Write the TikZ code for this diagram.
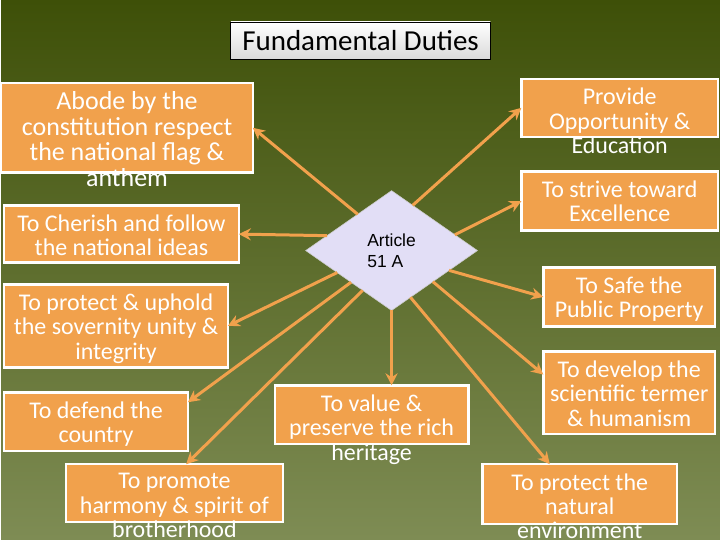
\documentclass[tikz,border=0pt]{standalone}
\usepackage{fontspec}
\setmainfont{Carlito}
\newfontfamily\arialfont{Liberation Sans}
\usetikzlibrary{shapes.geometric,arrows.meta,calc}
\definecolor{bgtop}{RGB}{62,80,8}
\definecolor{bgmid}{RGB}{72,92,18}
\definecolor{bgbot}{RGB}{126,140,84}
\definecolor{duty}{RGB}{241,161,76}
\definecolor{artfill}{RGB}{226,222,246}

\begin{document}
\begin{tikzpicture}[x=1pt, y=-1pt,
		box/.style = {draw=white, line width=2.5pt, fill=duty, inner sep=0pt, outer sep=0pt},
		txt/.style = {text=white, align=center, inner sep=0pt, anchor=north, font=\fontsize{24}{24.5}\selectfont},
		arr/.style = {draw=duty, line width=3pt},
		>={Stealth[length=12pt,width=12pt]}
	]
	% background
	\shade[top color=bgtop, middle color=bgmid, bottom color=bgbot] (0,0) rectangle (720,540);

	\node[draw=black, line width=0.8pt, top color=white, bottom color=gray!30, minimum width=260pt, minimum height=38pt,
		font=\fontsize{29}{30}\selectfont] (ttl) at (360,41) {Fundamental Duties};

	\node[diamond, draw=gray!40, line width=0.6pt, fill=artfill, minimum width=172pt, minimum height=120pt,
		inner sep=0pt, outer sep=0pt, align=left, font=\arialfont\fontsize{17.5}{21}\selectfont] (art) at (391,251) {Article\\51 A\hspace*{8pt}};

	% left column
	\node[box, minimum width=252pt, minimum height=90pt] (abode) at (126,128) {};
	\node[box, minimum width=235pt, minimum height=57pt] (cher)  at (120.5,234.5) {};
	\node[box, minimum width=224pt, minimum height=83pt] (uph)   at (115,326.5) {};
	\node[box, minimum width=184pt, minimum height=59pt] (def)   at (95,422.5) {};
	\node[box, minimum width=217pt, minimum height=58pt] (prom)  at (173.5,494) {};
	% bottom middle
	\node[box, minimum width=194pt, minimum height=59pt] (val)   at (371,415.5) {};
	\node[box, minimum width=195pt, minimum height=60pt] (nat)   at (579.5,495) {};
	% right column
	\node[box, minimum width=197pt, minimum height=58pt] (prov)  at (619.5,108) {};
	\node[box, minimum width=197pt, minimum height=59pt] (strv)  at (619.5,201.5) {};
	\node[box, minimum width=172pt, minimum height=59pt] (safe)  at (629,297.5) {};
	\node[box, minimum width=172pt, minimum height=83pt] (dev)   at (629,393.5) {};

	\node[txt, font=\fontsize{26}{26}\selectfont] (abode-t) at ([yshift=-8pt]abode.north) {Abode by the\\constitution respect\\the national flag \&\\anthem};
	\node[txt] (cher-t) at ([yshift=-9pt]cher.north) {To Cherish and follow\\the national ideas};
	\node[txt] (uph-t)  at ([yshift=-9pt]uph.north)  {To protect \& uphold\\the sovernity unity \&\\integrity};
	\node[txt] (def-t)  at ([yshift=-9pt]def.north)  {To defend the\\country};
	\node[txt] (prom-t) at ([yshift=-9pt]prom.north) {To promote\\harmony \& spirit of\\brotherhood};
	\node[txt] (val-t)  at ([yshift=-9pt]val.north)  {To value \&\\preserve the rich\\heritage};
	\node[txt] (nat-t)  at ([yshift=-9pt]nat.north)  {To protect the\\natural\\environment};
	\node[txt] (prov-t) at ([yshift=-9pt]prov.north) {Provide\\Opportunity \&\\Education};
	\node[txt] (strv-t) at ([yshift=-9pt]strv.north) {To strive toward\\Excellence};
	\node[txt] (safe-t) at ([yshift=-9pt]safe.north) {To Safe the\\Public Property};
	\node[txt] (dev-t)  at ([yshift=-9pt]dev.north)  {To develop the\\scientific termer\\\& humanism};

	\draw[arr, ->] (art.133) -- (abode.east);
	\draw[arr, ->] (art.167) -- (cher.east);
	\draw[arr, ->] (art.-158) -- (uph.east);
	\draw[arr, ->] (art.-142) -- (def.12);
	\draw[arr, ->] (art.-126) -- (prom.68);
	\draw[arr, ->] (art.south) -- (art.south |- val.north);
	\draw[arr, ->] (art.-68) -- (nat.135);
	\draw[arr, ->] (art.65) -- (prov.west);
	\draw[arr, ->] (art.14) -- (strv.west);
	\draw[arr, ->] (art.-19) -- (safe.west);
	\draw[arr, ->] (art.-37) -- (dev.168);
\end{tikzpicture}
\end{document}
